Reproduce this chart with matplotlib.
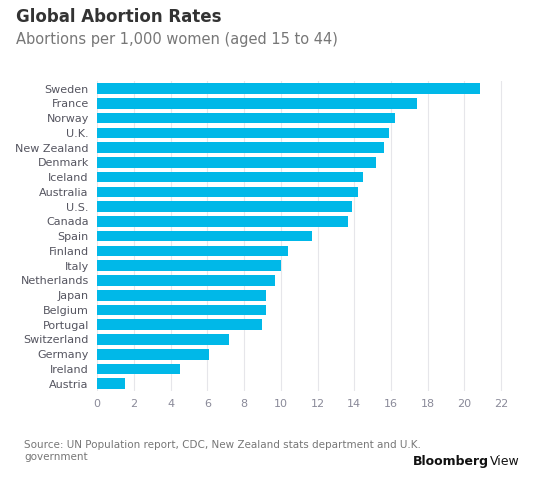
import matplotlib.pyplot as plt

countries = ["Sweden","France","Norway","U.K.","New Zealand","Denmark","Iceland","Australia","U.S.","Canada",
             "Spain","Finland","Italy","Netherlands","Japan","Belgium","Portugal","Switzerland","Germany","Ireland","Austria"]
rates = [20.85,17.4,16.2,15.9,15.6,15.2,14.5,14.2,13.9,13.65,11.7,10.4,10.0,9.7,9.2,9.2,9.0,7.2,6.1,4.5,1.5]
ticks = [0,2,4,6,8,10,12,14,16,18,20,22]

fig = plt.figure(figsize=(5.4,4.92), dpi=100)
ax = fig.add_axes([0.18, 0.205, 0.765, 0.63])
y = list(range(len(countries)))
ax.barh(y, rates, height=0.72, color="#00b8e8", zorder=3)
ax.set_yticks(y)
ax.set_yticklabels(countries, fontsize=8, color="#555560")
ax.set_ylim(len(countries)-0.5, -0.5)
ax.set_xlim(0, 22.5)
ax.set_xticks(ticks)
ax.set_xticklabels([str(t) for t in ticks], fontsize=8, color="#8a8a99")
ax.grid(axis="x", color="#e6e6ea", linewidth=0.8, zorder=0)
for s in ax.spines.values():
    s.set_visible(False)
ax.tick_params(length=0, pad=6)
fig.text(0.03, 0.955, "Global Abortion Rates", fontsize=12, fontweight="bold", color="#333333")
fig.text(0.03, 0.91, "Abortions per 1,000 women (aged 15 to 44)", fontsize=10.5, color="#777777")
fig.text(0.045, 0.065, "Source: UN Population report, CDC, New Zealand stats department and U.K.\ngovernment",
         fontsize=7.5, color="#777777", linespacing=1.3)
fig.text(0.905, 0.055, "Bloomberg", fontsize=9, fontweight="bold", color="#111111", ha="right")
fig.text(0.907, 0.055, "View", fontsize=9, color="#111111", ha="left")
fig.savefig("out.png", dpi=100, facecolor="white")
